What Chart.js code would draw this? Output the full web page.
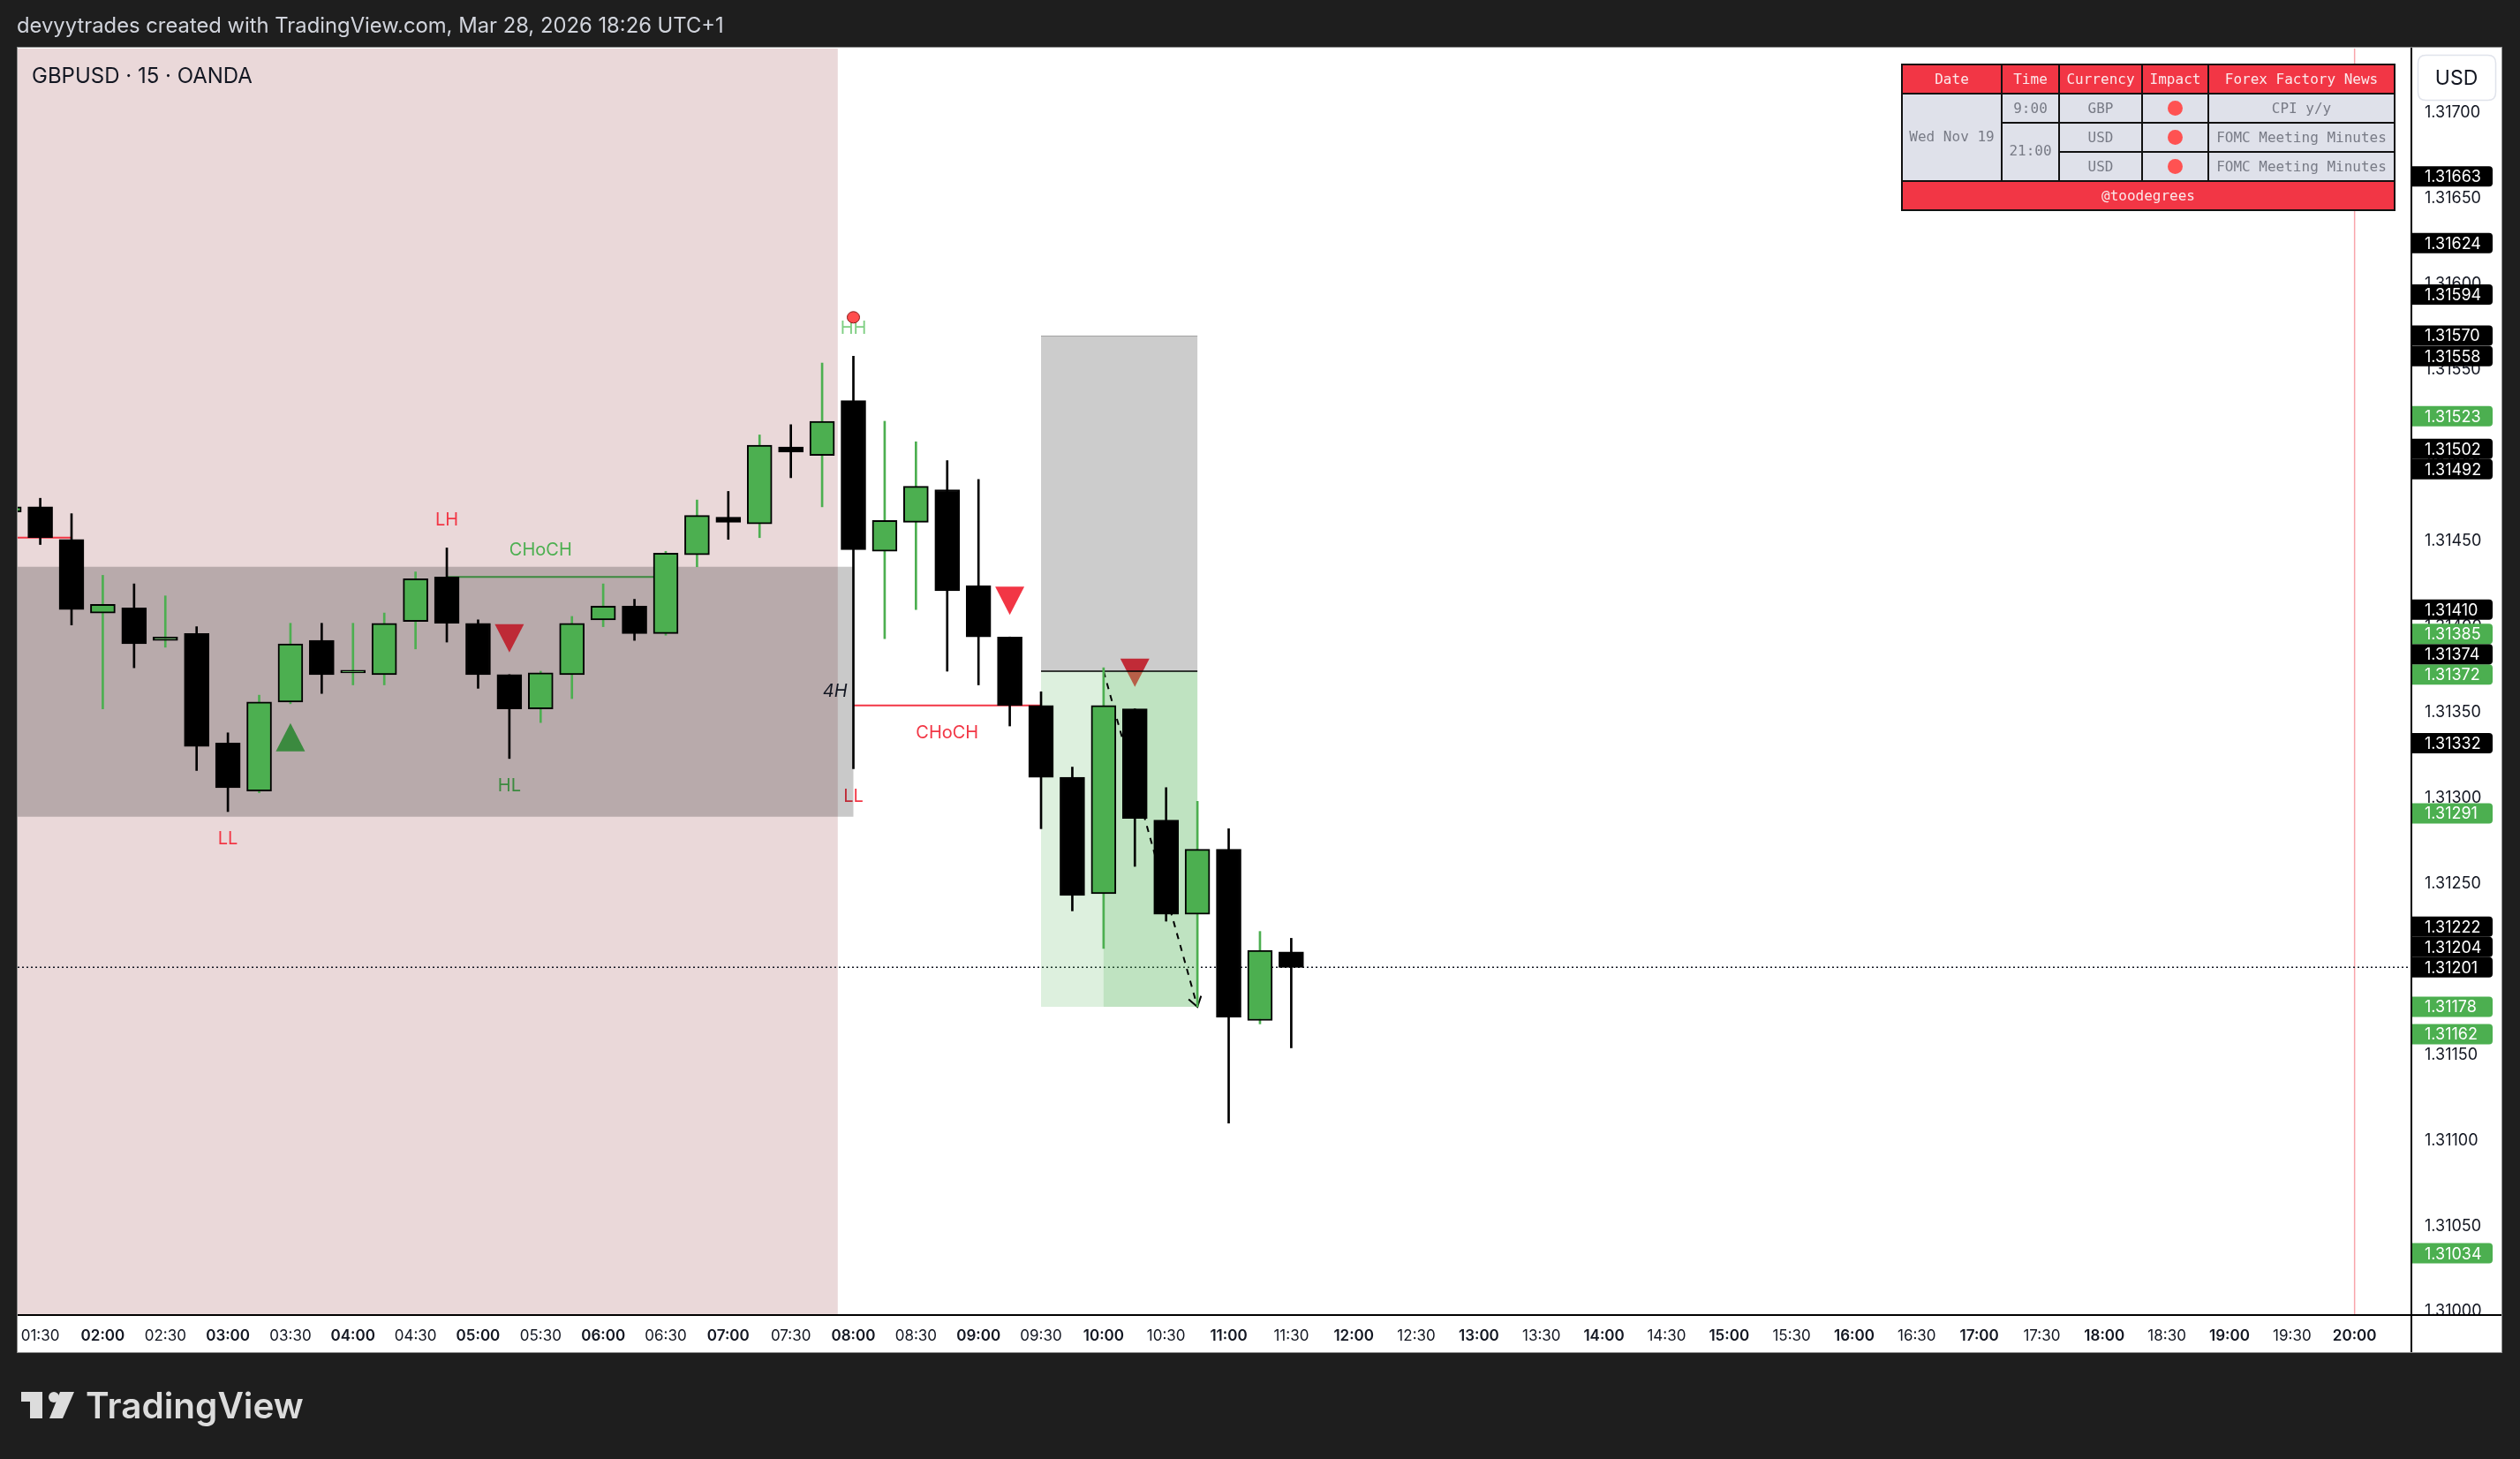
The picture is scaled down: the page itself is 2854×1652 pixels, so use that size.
<!DOCTYPE html>
<html><head><meta charset="utf-8">
<script src="https://cdn.jsdelivr.net/npm/chart.js@4.4.1/dist/chart.umd.min.js"></script>
<style>html,body{margin:0;padding:0;background:#1e1e1e;overflow:hidden}canvas{display:block}</style>
</head><body>
<canvas id="c" width="2854" height="1652"></canvas>
<script>
const W = 2854, H = 1652;

// ---------- DATA ----------
const barTimes = ["01:15","01:30","01:45","02:00","02:15","02:30","02:45","03:00","03:15","03:30","03:45","04:00","04:15","04:30","04:45","05:00","05:15","05:30","05:45","06:00","06:15","06:30","06:45","07:00","07:15","07:30","07:45","08:00","08:15","08:30","08:45","09:00","09:15","09:30","09:45","10:00","10:15","10:30","10:45","11:00","11:15","11:30"];
const opens  = [1.31467,1.31470,1.31451,1.31408,1.31411,1.31392,1.31396,1.31332,1.31304,1.31356,1.31392,1.31373,1.31372,1.31403,1.31429,1.31402,1.31372,1.31352,1.31372,1.31404,1.31412,1.31396,1.31442,1.31464,1.31460,1.31505,1.31500,1.31532,1.31444,1.31461,1.31480,1.31424,1.31394,1.31354,1.31312,1.31244,1.31352,1.31287,1.31232,1.31270,1.31170,1.31210];
const highs  = [1.31472,1.31475,1.31466,1.31430,1.31425,1.31418,1.31400,1.31338,1.31360,1.31402,1.31402,1.31402,1.31408,1.31432,1.31446,1.31404,1.31372,1.31374,1.31406,1.31425,1.31416,1.31444,1.31474,1.31479,1.31512,1.31518,1.31554,1.31558,1.31520,1.31508,1.31497,1.31486,1.31394,1.31362,1.31318,1.31376,1.31352,1.31306,1.31298,1.31282,1.31222,1.31218];
const lows   = [1.31464,1.31448,1.31401,1.31352,1.31376,1.31388,1.31316,1.31292,1.31303,1.31355,1.31361,1.31366,1.31366,1.31387,1.31391,1.31364,1.31323,1.31344,1.31358,1.31400,1.31392,1.31395,1.31435,1.31451,1.31452,1.31487,1.31470,1.31317,1.31393,1.31410,1.31374,1.31366,1.31342,1.31282,1.31234,1.31212,1.31260,1.31228,1.31178,1.31110,1.31168,1.31154];
const closes = [1.31470,1.31452,1.31410,1.31413,1.31390,1.31394,1.31330,1.31306,1.31356,1.31390,1.31372,1.31374,1.31402,1.31428,1.31402,1.31372,1.31352,1.31373,1.31402,1.31412,1.31396,1.31443,1.31465,1.31461,1.31506,1.31502,1.31520,1.31445,1.31462,1.31482,1.31421,1.31394,1.31354,1.31312,1.31243,1.31354,1.31288,1.31232,1.31270,1.31172,1.31211,1.31201];

// view range (time in minutes, price)
const viewTime = ["01:19:10", "20:27:15"];
const viewPrice = [1.3099795, 1.3173766];
const priceStep = 0.0005;
const timeStepMin = 30;

// price-scale labels (right axis)
const axisLabelPrices = [1.31663,1.31624,1.31594,1.31570,1.31558,1.31523,1.31502,1.31492,1.31410,1.31385,1.31374,1.31372,1.31332,1.31291,1.31222,1.31204,1.31201,1.31178,1.31162,1.31034];
const axisLabelKinds  = ['dark','dark','dark','dark','dark','green','dark','dark','dark','green','dark','green','dark','green','dark','dark','dark','green','green','green'];

// session background (ends between 07:45 and 08:00 bars)
const sessionEnd = "07:52:30";
const sessionLine = "20:00";

// 4H zone
const zoneTop = 1.31435, zoneBottom = 1.31289, zoneEnd = "08:00", zoneLabel = "4H";

// structure
const swingTimes = ["03:00","04:45","05:15","08:00","08:00"];
const swingTexts = ["LL","LH","HL","HH","LL"];
const swingSides = ["low","high","low","high","low"];
const swingColors = ["#f23645","#f23645","#4caf50","#7fcf83","#f23645"];

const chochStart = ["04:45","08:00"];
const chochEnd   = ["06:30","09:30"];
const chochLevel = [1.31429, 1.31354];
const chochColor = ["#4caf50","#f23645"];
const chochSide  = ["above","below"];

const redLevelStart = "01:00", redLevelEnd = "01:45", redLevel = 1.31452;

// signal triangles
const triTimes = ["03:30","05:15","09:15","10:15"];
const triDirs  = ["up","down","down","down"];
const triColors = ["#4caf50","#f23645","#f23645","#f23645"];

// red dot marker
const dotTime = "08:00";

// short position tool
const posStart = "09:30", posMid = "10:00", posEnd = "10:45";
const posEntry = 1.31374, posStop = 1.31570, posTarget = 1.31178;

// news table
const newsDate = "Wed Nov 19";
const newsTimes = ["9:00","21:00"];
const newsCurrency = ["GBP","USD","USD"];
const newsTitles = ["CPI y/y","FOMC Meeting Minutes","FOMC Meeting Minutes"];
const tableHeaders = ["Date","Time","Currency","Impact","Forex Factory News"];
const tableFooter = "@toodegrees";

const headerText = "devyytrades created with TradingView.com, Mar 28, 2026 18:26 UTC+1";
const symbolText = "GBPUSD · 15 · OANDA";
const currencyText = "USD";

// ---------- HELPERS ----------
function tmin(s){ const p = s.split(':').map(Number); return p[0]*60 + p[1] + (p[2]||0)/60; }
function fmtTime(v){ const h = Math.floor(v/60), m = Math.round(v%60); return String(h).padStart(2,'0')+':'+String(m).padStart(2,'0'); }
const isUp = opens.map((o,i)=> closes[i] >= o);

const bodyData = barTimes.map((t,i)=>({x: tmin(t), y: [opens[i], closes[i]]}));
const wickData = barTimes.map((t,i)=>({x: tmin(t), y: [lows[i], highs[i]]}));

function roundRight(ctx, x, y, w, h, r){
  ctx.beginPath();
  ctx.moveTo(x, y); ctx.lineTo(x+w-r, y); ctx.quadraticCurveTo(x+w, y, x+w, y+r);
  ctx.lineTo(x+w, y+h-r); ctx.quadraticCurveTo(x+w, y+h, x+w-r, y+h);
  ctx.lineTo(x, y+h); ctx.closePath();
}
function roundRect(ctx,x,y,w,h,r){
  ctx.beginPath();
  ctx.moveTo(x+r,y); ctx.lineTo(x+w-r,y); ctx.quadraticCurveTo(x+w,y,x+w,y+r);
  ctx.lineTo(x+w,y+h-r); ctx.quadraticCurveTo(x+w,y+h,x+w-r,y+h);
  ctx.lineTo(x+r,y+h); ctx.quadraticCurveTo(x,y+h,x,y+h-r);
  ctx.lineTo(x,y+r); ctx.quadraticCurveTo(x,y,x+r,y); ctx.closePath();
}

const tvPlugin = {
  id: 'tv',
  beforeDraw(chart){
    const ctx = chart.ctx;
    ctx.save();
    ctx.fillStyle = '#1e1e1e'; ctx.fillRect(0,0,W,H);
    ctx.fillStyle = '#ffffff'; ctx.fillRect(20,54,2813,1477);
    ctx.restore();
  },
  beforeDatasetsDraw(chart){
    const {ctx, chartArea:a, scales:{x, y}} = chart;
    const X = v => x.getPixelForValue(typeof v === 'string' ? tmin(v) : v);
    const Y = v => y.getPixelForValue(v);
    const idx = t => barTimes.indexOf(t);
    ctx.save();
    ctx.beginPath(); ctx.rect(a.left, a.top, a.width, a.height); ctx.clip();

    // session background
    ctx.fillStyle = '#ead8d9';
    ctx.fillRect(a.left, a.top, X(sessionEnd)-a.left, a.height);

    // session vertical line
    ctx.strokeStyle = 'rgba(242,54,69,0.45)'; ctx.lineWidth = 1.5;
    ctx.beginPath(); ctx.moveTo(X(sessionLine), a.top); ctx.lineTo(X(sessionLine), a.bottom); ctx.stroke();

    // last price dotted line
    const lp = Y(closes[closes.length-1]);
    ctx.strokeStyle = '#131722'; ctx.lineWidth = 1.5; ctx.setLineDash([2,3]);
    ctx.beginPath(); ctx.moveTo(a.left, lp); ctx.lineTo(a.right, lp); ctx.stroke();
    ctx.setLineDash([]);

    // red level line
    ctx.strokeStyle = '#f23645'; ctx.lineWidth = 2;
    ctx.beginPath(); ctx.moveTo(X(redLevelStart), Y(redLevel)); ctx.lineTo(X(redLevelEnd), Y(redLevel)); ctx.stroke();

    // CHoCH lines
    ctx.font = '20px Inter'; ctx.textAlign = 'center'; ctx.textBaseline = 'middle';
    for (let k=0;k<chochLevel.length;k++){
      const yy = Y(chochLevel[k]);
      ctx.strokeStyle = chochColor[k]; ctx.lineWidth = 2;
      ctx.beginPath(); ctx.moveTo(X(chochStart[k]), yy); ctx.lineTo(X(chochEnd[k]), yy); ctx.stroke();
      const mid = Math.floor((idx(chochStart[k]) + idx(chochEnd[k]))/2);
      ctx.fillStyle = chochColor[k];
      ctx.fillText('CHoCH', X(barTimes[mid]), chochSide[k]==='above' ? yy-30 : yy+31);
    }

    // swing labels
    for (let k=0;k<swingTimes.length;k++){
      const i = idx(swingTimes[k]);
      const yy = swingSides[k]==='high' ? Y(highs[i]) - 31 : Y(lows[i]) + 31;
      ctx.fillStyle = swingColors[k];
      ctx.fillText(swingTexts[k], X(swingTimes[k]), yy);
    }

    // triangles
    for (let k=0;k<triTimes.length;k++){
      const i = idx(triTimes[k]); const cx = X(triTimes[k]);
      ctx.fillStyle = triColors[k];
      ctx.beginPath();
      if (triDirs[k]==='up'){
        const t0 = Y(lows[i]) + 22;
        ctx.moveTo(cx, t0); ctx.lineTo(cx+16.5, t0+32); ctx.lineTo(cx-16.5, t0+32);
      } else {
        const b0 = Y(highs[i]) - 25;
        ctx.moveTo(cx, b0); ctx.lineTo(cx+16.5, b0-32); ctx.lineTo(cx-16.5, b0-32);
      }
      ctx.closePath(); ctx.fill();
    }

    // red dot above HH
    { const i = idx(dotTime);
      ctx.fillStyle = '#ff4d4d'; ctx.strokeStyle = '#8b1a1a'; ctx.lineWidth = 1;
      ctx.beginPath(); ctx.ellipse(X(dotTime), Y(highs[i]) - 44, 7, 6.5, 0, 0, Math.PI*2); ctx.fill(); ctx.stroke(); }

    // 4H zone
    const zt = Y(zoneTop), zb = Y(zoneBottom), ze = X(zoneEnd);
    ctx.fillStyle = 'rgba(0,0,0,0.21)';
    ctx.fillRect(a.left, zt, ze - a.left, zb - zt);
    ctx.fillStyle = '#131722'; ctx.font = 'italic 20px Inter'; ctx.textAlign = 'right';
    ctx.fillText(zoneLabel, ze - 7, (zt+zb)/2);

    // position tool
    const px0 = X(posStart), px1 = X(posMid), px2 = X(posEnd);
    const ye = Y(posEntry), ys = Y(posStop), yt = Y(posTarget);
    ctx.fillStyle = 'rgba(0,0,0,0.2)';
    ctx.fillRect(px0, ys, px2-px0, ye-ys);
    ctx.strokeStyle = '#a3a3a3'; ctx.lineWidth = 1;
    ctx.beginPath(); ctx.moveTo(px0, ys+0.5); ctx.lineTo(px2, ys+0.5); ctx.stroke();
    ctx.fillStyle = 'rgba(76,175,80,0.19)';
    ctx.fillRect(px0, ye, px2-px0, yt-ye);
    ctx.fillStyle = 'rgba(76,175,80,0.2)';
    ctx.fillRect(px1, ye, px2-px1, yt-ye);
    ctx.strokeStyle = '#000'; ctx.lineWidth = 1.5;
    ctx.beginPath(); ctx.moveTo(px0, ye); ctx.lineTo(px2, ye); ctx.stroke();
    // path arrow
    ctx.setLineDash([7,7]); ctx.lineWidth = 2;
    ctx.beginPath(); ctx.moveTo(px1, ye); ctx.lineTo(px2, yt); ctx.stroke();
    ctx.setLineDash([]);
    const ang = Math.atan2(yt-ye, px2-px1);
    ctx.beginPath();
    ctx.moveTo(px2 - 13*Math.cos(ang-0.6), yt - 13*Math.sin(ang-0.6)); ctx.lineTo(px2, yt);
    ctx.lineTo(px2 - 13*Math.cos(ang+0.6), yt - 13*Math.sin(ang+0.6));
    ctx.stroke();
    ctx.restore();
  },
  afterDraw(chart){
    const {ctx, chartArea:a, scales:{y}} = chart;
    ctx.save();
    // clip the price axis bottom strip
    ctx.fillStyle = '#ffffff'; ctx.fillRect(a.right+1, a.bottom+1, 101, 42);

    // price labels with stacking
    const items = axisLabelPrices.map((p,i)=>({p, kind: axisLabelKinds[i], y: y.getPixelForValue(p)}));
    items.sort((u,v)=> v.y - u.y);
    let prev = Infinity;
    for (const it of items){ it.py = Math.min(it.y, prev - 23); prev = it.py; }
    ctx.font = '18px Inter'; ctx.textAlign = 'left'; ctx.textBaseline = 'middle';
    for (const it of items){
      ctx.fillStyle = it.kind === 'green' ? '#4caf50' : '#000000';
      roundRight(ctx, a.right, it.py - 11.5, 92, 23, 4); ctx.fill();
      ctx.fillStyle = '#ffffff';
      ctx.fillText(it.p.toFixed(5), a.right + 15, it.py + 1);
    }

    // USD box
    ctx.fillStyle = '#ffffff'; ctx.strokeStyle = '#e0e3eb'; ctx.lineWidth = 1.5;
    roundRect(ctx, 2738.5, 62.5, 88, 51, 9); ctx.fill(); ctx.stroke();
    ctx.fillStyle = '#131722'; ctx.font = '23px Inter'; ctx.textAlign = 'center';
    ctx.fillText(currencyText, 2782, 89);

    // axis lines
    ctx.strokeStyle = '#000'; ctx.lineWidth = 2;
    ctx.beginPath(); ctx.moveTo(20, a.bottom); ctx.lineTo(2833, a.bottom); ctx.stroke();
    ctx.beginPath(); ctx.moveTo(a.right, 54); ctx.lineTo(a.right, 1531); ctx.stroke();
    ctx.strokeStyle = '#8c8c8c'; ctx.lineWidth = 1;
    ctx.strokeRect(19.5, 53.5, 2814, 1478);

    // news table
    const cx = [2154, 2267, 2332, 2426, 2501, 2712];
    const ry = [73, 106, 139, 172, 205, 238];
    ctx.fillStyle = '#f23645';
    ctx.fillRect(cx[0], ry[0], cx[5]-cx[0], ry[1]-ry[0]);
    ctx.fillRect(cx[0], ry[4], cx[5]-cx[0], ry[5]-ry[4]);
    ctx.fillStyle = '#dfe1ea';
    ctx.fillRect(cx[0], ry[1], cx[5]-cx[0], ry[4]-ry[1]);
    ctx.strokeStyle = '#111'; ctx.lineWidth = 2;
    ctx.strokeRect(cx[0], ry[0], cx[5]-cx[0], ry[5]-ry[0]);
    ctx.beginPath();
    for (let r=1;r<=4;r++){ ctx.moveTo(cx[0], ry[r]); ctx.lineTo(cx[5], ry[r]); }
    ctx.stroke();
    ctx.beginPath();
    for (let c=1;c<=4;c++){ ctx.moveTo(cx[c], ry[0]); ctx.lineTo(cx[c], ry[4]); }
    ctx.stroke();
    // cover merged cells
    ctx.fillStyle = '#dfe1ea';
    ctx.fillRect(cx[0]+1, ry[1]+1, cx[1]-cx[0]-2, ry[4]-ry[1]-2);
    ctx.fillRect(cx[1]+1, ry[2]+1, cx[2]-cx[1]-2, ry[4]-ry[2]-2);
    ctx.font = '16px "DejaVu Sans Mono"'; ctx.textAlign = 'center'; ctx.textBaseline = 'middle';
    ctx.fillStyle = '#fbe9eb';
    for (let c=0;c<5;c++) ctx.fillText(tableHeaders[c], (cx[c]+cx[c+1])/2, (ry[0]+ry[1])/2 + 1);
    ctx.fillText(tableFooter, (cx[0]+cx[5])/2, (ry[4]+ry[5])/2 + 1);
    ctx.fillStyle = '#787b86';
    ctx.fillText(newsDate, (cx[0]+cx[1])/2, (ry[1]+ry[4])/2);
    ctx.fillText(newsTimes[0], (cx[1]+cx[2])/2, (ry[1]+ry[2])/2 + 1);
    ctx.fillText(newsTimes[1], (cx[1]+cx[2])/2, (ry[2]+ry[4])/2);
    for (let r=0;r<3;r++){
      const my = (ry[r+1]+ry[r+2])/2 + 1;
      ctx.fillStyle = '#787b86';
      ctx.fillText(newsCurrency[r], (cx[2]+cx[3])/2, my);
      ctx.fillText(newsTitles[r], (cx[4]+cx[5])/2, my);
      ctx.fillStyle = '#ff5252';
      ctx.beginPath(); ctx.arc((cx[3]+cx[4])/2, my-1, 8.5, 0, Math.PI*2); ctx.fill();
    }

    // symbol text
    ctx.fillStyle = '#131722'; ctx.font = '24px Inter'; ctx.textAlign = 'left'; ctx.textBaseline = 'middle';
    ctx.fillText(symbolText, 36, 87);

    // header
    ctx.fillStyle = '#d1d4dc'; ctx.font = '23.8px Inter';
    ctx.fillText(headerText, 19, 30);

    // logo
    ctx.fillStyle = '#dcdcdc';
    ctx.fillRect(24, 1576, 24, 11);
    ctx.fillRect(34, 1576, 14, 30);
    ctx.beginPath(); ctx.arc(61, 1582, 6, 0, Math.PI*2); ctx.fill();
    ctx.beginPath(); ctx.moveTo(68,1576); ctx.lineTo(84,1576); ctx.lineTo(71,1606); ctx.lineTo(56,1606); ctx.closePath(); ctx.fill();
    ctx.font = '600 40.5px Inter'; ctx.textBaseline = 'alphabetic';
    ctx.fillText('TradingView', 97, 1606);
    ctx.restore();
  }
};

Chart.defaults.font.family = 'Inter';
new Chart(document.getElementById('c'), {
  type: 'bar',
  data: { datasets: [
    { data: wickData, backgroundColor: isUp.map(u=> u ? '#4caf50' : '#000000'), borderWidth: 0, barThickness: 2, grouped: false, order: 2 },
    { data: bodyData, backgroundColor: isUp.map(u=> u ? '#4caf50' : '#000000'), borderColor: '#000000', borderWidth: 2, borderSkipped: false, barThickness: 28, grouped: false, minBarLength: 3, order: 1 }
  ]},
  options: {
    responsive: false, animation: false, devicePixelRatio: 1, events: [],
    layout: { padding: { left: 20, top: 55, right: 21, bottom: 121 } },
    plugins: { legend: { display: false }, tooltip: { enabled: false } },
    scales: {
      x: {
        type: 'linear', offset: false, min: tmin(viewTime[0]), max: tmin(viewTime[1]),
        grid: { display: false, drawTicks: false, offset: false }, border: { display: false },
        afterFit: s => { s.height = 42; },
        ticks: {
          stepSize: timeStepMin, includeBounds: false, autoSkip: false, maxRotation: 0, padding: 14,
          color: '#131722',
          font: c => ({ family: 'Inter', size: 17, weight: (c.tick && c.tick.value % 60 === 0) ? '600' : '400' }),
          callback: v => fmtTime(v)
        }
      },
      y: {
        type: 'linear', position: 'right', min: viewPrice[0], max: viewPrice[1],
        grid: { display: false, drawTicks: false }, border: { display: false },
        afterFit: s => { s.width = 102; },
        ticks: { stepSize: priceStep, includeBounds: false, padding: 15, color: '#131722', crossAlign: 'near',
          font: { family: 'Inter', size: 18 }, callback: v => v.toFixed(5) }
      }
    }
  },
  plugins: [tvPlugin]
});
</script>
</body></html>
